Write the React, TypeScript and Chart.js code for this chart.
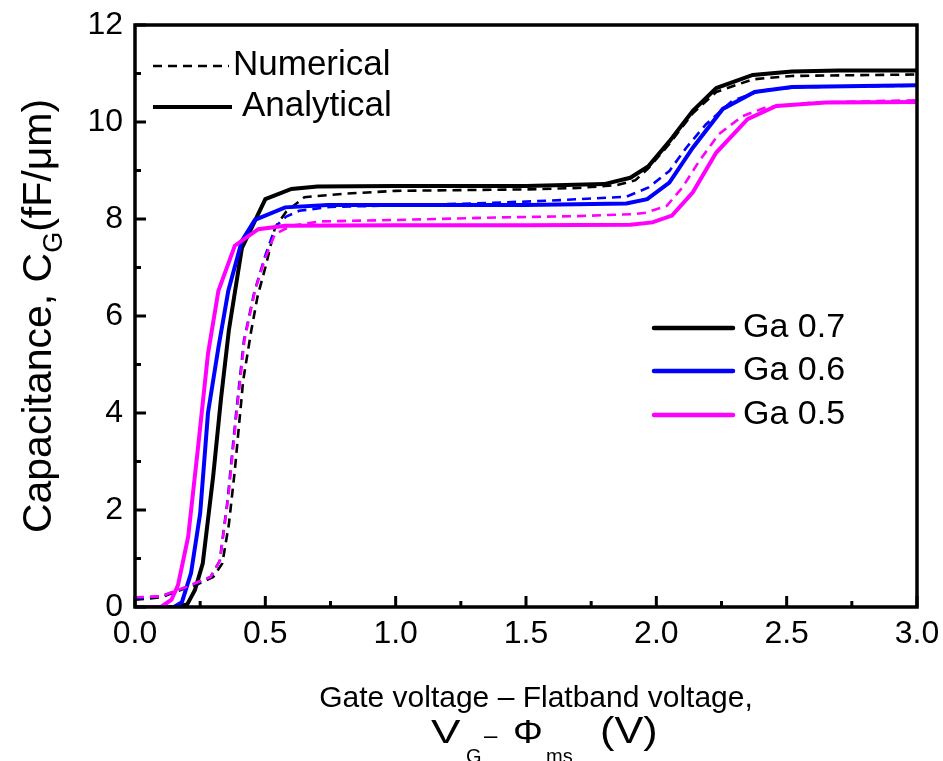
import { useEffect, useRef } from "react";
import { Chart, registerables } from "chart.js";

Chart.register(...registerables);

const FONT = "'Liberation Sans', Arial, Helvetica, sans-serif";

// Axis ticks
const xTickValues = [0, 0.5, 1.0, 1.5, 2.0, 2.5, 3.0];
const xMinorTickValues = [0.25, 0.75, 1.25, 1.75, 2.25, 2.75];
const yTickValues = [0, 2, 4, 6, 8, 10, 12];
const yMinorTickValues = [1, 3, 5, 7, 9, 11];

// Ga 0.7 — analytical (solid black)
const ga07AnalyticalX = [0, 0.15, 0.2, 0.23, 0.26, 0.3, 0.33, 0.36, 0.41, 0.5, 0.6, 0.7, 1.0, 1.5, 1.8, 1.9, 1.97, 2.05, 2.14, 2.23, 2.37, 2.52, 2.7, 3.0];
const ga07AnalyticalY = [0, 0, 0.05, 0.35, 0.9, 2.7, 4.3, 5.7, 7.4, 8.41, 8.62, 8.67, 8.68, 8.68, 8.72, 8.85, 9.09, 9.6, 10.23, 10.7, 10.97, 11.04, 11.06, 11.06];

// Ga 0.7 — numerical (dashed black)
const ga07NumericalX = [0, 0.1, 0.2, 0.24, 0.3, 0.335, 0.36, 0.383, 0.415, 0.446, 0.47, 0.5, 0.537, 0.58, 0.65, 0.8, 1.0, 1.5, 1.7, 1.85, 1.92, 1.97, 2.05, 2.14, 2.23, 2.37, 2.52, 3.0];
const ga07NumericalY = [0.15, 0.2, 0.4, 0.47, 0.62, 0.9, 1.7, 2.82, 4.67, 5.7, 6.4, 7.0, 7.82, 8.15, 8.45, 8.52, 8.58, 8.61, 8.64, 8.7, 8.8, 9.05, 9.55, 10.18, 10.62, 10.88, 10.95, 10.98];

// Ga 0.6 — analytical (solid blue)
const ga06AnalyticalX = [0, 0.15, 0.18, 0.215, 0.25, 0.28, 0.32, 0.358, 0.41, 0.46, 0.576, 0.74, 1.0, 1.5, 1.885, 1.965, 2.05, 2.14, 2.255, 2.377, 2.52, 3.0];
const ga06AnalyticalY = [0, 0, 0.1, 0.7, 1.93, 4.0, 5.35, 6.52, 7.55, 7.98, 8.24, 8.29, 8.29, 8.29, 8.32, 8.41, 8.75, 9.47, 10.27, 10.62, 10.72, 10.76];

// Ga 0.6 — numerical (dashed blue)
const ga06NumericalX = [0, 0.1, 0.2, 0.23, 0.29, 0.325, 0.355, 0.388, 0.418, 0.458, 0.5, 0.54, 0.58, 0.63, 0.75, 1.0, 1.3, 1.6, 1.885, 1.97, 2.05, 2.115, 2.19, 2.29, 2.4, 2.55, 3.0];
const ga06NumericalY = [0.18, 0.22, 0.42, 0.48, 0.62, 0.95, 2.2, 4.0, 5.5, 6.5, 7.25, 7.85, 8.05, 8.17, 8.25, 8.28, 8.32, 8.38, 8.46, 8.65, 8.99, 9.47, 9.95, 10.43, 10.65, 10.72, 10.75];

// Ga 0.5 — analytical (solid magenta)
const ga05AnalyticalX = [0, 0.1, 0.14, 0.165, 0.204, 0.242, 0.28, 0.32, 0.383, 0.473, 0.576, 1.0, 1.5, 1.9, 1.985, 2.06, 2.14, 2.23, 2.35, 2.46, 2.65, 3.0];
const ga05AnalyticalY = [0, 0, 0.15, 0.45, 1.45, 3.3, 5.22, 6.52, 7.45, 7.79, 7.86, 7.87, 7.87, 7.88, 7.93, 8.07, 8.55, 9.37, 10.06, 10.33, 10.4, 10.41];

// Ga 0.5 — numerical (dashed magenta)
const ga05NumericalX = [0, 0.1, 0.2, 0.23, 0.29, 0.326, 0.358, 0.39, 0.42, 0.46, 0.5, 0.537, 0.6, 0.71, 1.0, 1.38, 1.7, 1.91, 1.96, 2.04, 2.1, 2.165, 2.24, 2.33, 2.42, 2.6, 3.0];
const ga05NumericalY = [0.2, 0.22, 0.42, 0.49, 0.62, 0.96, 2.27, 4.0, 5.5, 6.52, 7.2, 7.69, 7.86, 7.95, 7.98, 8.03, 8.06, 8.1, 8.13, 8.27, 8.65, 9.2, 9.75, 10.12, 10.3, 10.4, 10.45];

const seriesLabels = ["Ga 0.7", "Ga 0.6", "Ga 0.5"];
const seriesColors = ["#000000", "#0000ff", "#ff00ff"];
const styleLabels = ["Numerical", "Analytical"];

const pts = (xs: number[], ys: number[]) => xs.map((x, i) => ({ x, y: ys[i] }));

type Run = { t: string; size: number; dy?: number };

function runsWidth(ctx: CanvasRenderingContext2D, runs: Run[]) {
  let w = 0;
  for (const r of runs) {
    ctx.font = `${r.size}px ${FONT}`;
    w += ctx.measureText(r.t).width;
  }
  return w;
}

function drawRuns(ctx: CanvasRenderingContext2D, runs: Run[], cx: number, cy: number) {
  const w = runsWidth(ctx, runs);
  let x = cx - w / 2;
  ctx.textAlign = "left";
  ctx.textBaseline = "alphabetic";
  for (const r of runs) {
    ctx.font = `${r.size}px ${FONT}`;
    ctx.fillText(r.t, x, cy + (r.dy || 0));
    x += ctx.measureText(r.t).width;
  }
}

function textAt(ctx: CanvasRenderingContext2D, t: string, x: number, y: number, size: number, sx = 1) {
  ctx.save();
  ctx.font = `${size}px ${FONT}`;
  ctx.textAlign = "left";
  ctx.textBaseline = "alphabetic";
  ctx.translate(x, y);
  ctx.scale(sx, 1);
  ctx.fillText(t, 0, 0);
  ctx.restore();
}

const decorPlugin = {
  id: "decor",
  afterDatasetsDraw(chart: any) {
    const ctx: CanvasRenderingContext2D = chart.ctx;
    const { left, right, top, bottom } = chart.chartArea;
    const xs = chart.scales.x;
    const ys = chart.scales.y;
    ctx.save();
    ctx.strokeStyle = "#000";
    ctx.fillStyle = "#000";
    ctx.lineCap = "butt";

    const seg = (x1: number, y1: number, x2: number, y2: number) => {
      ctx.beginPath();
      ctx.moveTo(x1, y1);
      ctx.lineTo(x2, y2);
      ctx.stroke();
    };
    // inward ticks
    ctx.lineWidth = 3;
    xTickValues.forEach((v) => {
      const p = xs.getPixelForValue(v);
      seg(p, bottom, p, bottom - 11);
    });
    xMinorTickValues.forEach((v) => {
      const p = xs.getPixelForValue(v);
      seg(p, bottom, p, bottom - 6);
    });
    yTickValues.forEach((v) => {
      const p = ys.getPixelForValue(v);
      seg(left, p, left + 11, p);
    });
    yMinorTickValues.forEach((v) => {
      const p = ys.getPixelForValue(v);
      seg(left, p, left + 6, p);
    });

    // frame
    ctx.lineWidth = 3.5;
    ctx.lineJoin = "miter";
    ctx.strokeRect(left, top, right - left, bottom - top);

    // legend: line style
    ctx.lineWidth = 2.6;
    ctx.setLineDash([9, 6]);
    seg(153, 66, 229, 66);
    ctx.setLineDash([]);
    ctx.lineWidth = 4;
    seg(153, 107, 232, 107);
    ctx.font = `35px ${FONT}`;
    ctx.textAlign = "left";
    ctx.textBaseline = "middle";
    ctx.fillText(styleLabels[0], 233, 65);
    ctx.fillText(styleLabels[1], 242, 106);

    // legend: series
    const ly = [328, 371, 415];
    seriesLabels.forEach((lab, i) => {
      ctx.strokeStyle = seriesColors[i];
      ctx.lineWidth = 4.5;
      ctx.lineCap = "round";
      seg(654, ly[i], 733, ly[i]);
      ctx.fillStyle = "#000";
      ctx.font = `34px ${FONT}`;
      ctx.textAlign = "left";
      ctx.textBaseline = "middle";
      ctx.fillText(lab, 743, ly[i]);
    });

    // x title
    ctx.fillStyle = "#000";
    drawRuns(ctx, [{ t: "Gate voltage \u2013 Flatband voltage,", size: 30 }], 536, 707);
    textAt(ctx, "V", 431, 743, 34, 1.3);
    textAt(ctx, "G", 466, 763, 20);
    textAt(ctx, "\u2013", 484, 743, 24);
    textAt(ctx, "\u03A6", 513, 743, 34, 1.1);
    textAt(ctx, "ms", 546, 763, 20);
    textAt(ctx, "(V)", 600, 743, 36, 1.2);

    // y title
    ctx.translate(51, 316);
    ctx.rotate(-Math.PI / 2);
    drawRuns(
      ctx,
      [
        { t: "Capacitance, C", size: 41 },
        { t: "G", size: 27, dy: 11 },
        { t: "(fF/\u03BCm)", size: 41 },
      ],
      0,
      0
    );
    ctx.restore();
  },
};

export default function App() {
  const ref = useRef<HTMLCanvasElement | null>(null);
  useEffect(() => {
    if (!ref.current) return;
    const mk = (label: string, xs: number[], ys: number[], color: string, dashed: boolean, order: number) => ({
      label,
      data: pts(xs, ys),
      borderColor: color,
      backgroundColor: color,
      borderWidth: dashed ? 2.6 : 4,
      borderDash: dashed ? [9, 6] : [],
      pointRadius: 0,
      fill: false,
      tension: 0,
      order,
    });
    const chart = new Chart(ref.current, {
      type: "line",
      data: {
        datasets: [
          mk("Ga 0.5 Analytical", ga05AnalyticalX, ga05AnalyticalY, seriesColors[2], false, 1),
          mk("Ga 0.5 Numerical", ga05NumericalX, ga05NumericalY, seriesColors[2], true, 2),
          mk("Ga 0.6 Analytical", ga06AnalyticalX, ga06AnalyticalY, seriesColors[1], false, 3),
          mk("Ga 0.6 Numerical", ga06NumericalX, ga06NumericalY, seriesColors[1], true, 4),
          mk("Ga 0.7 Analytical", ga07AnalyticalX, ga07AnalyticalY, seriesColors[0], false, 5),
          mk("Ga 0.7 Numerical", ga07NumericalX, ga07NumericalY, seriesColors[0], true, 6),
        ],
      },
      options: {
        responsive: false,
        animation: false,
        devicePixelRatio: 1,
        layout: { padding: { left: 0, top: 25, right: 26, bottom: 0 } },
        plugins: { legend: { display: false }, tooltip: { enabled: false }, title: { display: false } },
        scales: {
          x: {
            type: "linear",
            min: 0,
            max: 3,
            afterBuildTicks: (s: any) => {
              s.ticks = xTickValues.map((v) => ({ value: v }));
            },
            afterFit: (s: any) => {
              s.height = 154;
              s.paddingLeft = 0;
              s.paddingRight = 0;
              s.paddingTop = 0;
              s.paddingBottom = 0;
            },
            grid: { display: false, drawTicks: false },
            border: { display: false },
            ticks: {
              padding: 8,
              color: "#000",
              font: { family: FONT, size: 32 },
              maxRotation: 0,
              callback: (v: any) => Number(v).toFixed(1),
            },
          },
          y: {
            type: "linear",
            min: 0,
            max: 12,
            afterBuildTicks: (s: any) => {
              s.ticks = yTickValues.map((v) => ({ value: v }));
            },
            afterFit: (s: any) => {
              s.width = 135;
              s.paddingLeft = 0;
              s.paddingRight = 0;
              s.paddingTop = 0;
              s.paddingBottom = 0;
            },
            grid: { display: false, drawTicks: false },
            border: { display: false },
            ticks: {
              padding: 12,
              color: "#000",
              font: { family: FONT, size: 32 },
              callback: (v: any) => String(v),
            },
          },
        },
      },
      plugins: [decorPlugin],
    } as any);
    return () => chart.destroy();
  }, []);
  return (
    <div style={{ position: "fixed", left: 0, top: 0, width: 943, height: 761, background: "#fff" }}>
      <canvas ref={ref} width={943} height={761} style={{ width: 943, height: 761 }} />
    </div>
  );
}
